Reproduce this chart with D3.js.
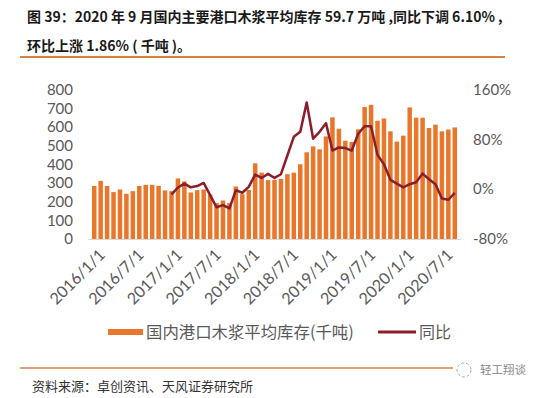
<!DOCTYPE html>
<html>

<head>
    <meta charset="UTF-8">
    <style>
        body { margin: 0; background: #fff; }
        svg { display: block; }
        text { font-family: "Noto Sans CJK SC", "Noto Sans", sans-serif; }
        .tick text { font-family: Lato, "Noto Sans", sans-serif; fill: #595959; }
    </style>
</head>

<body>
    <svg></svg>
    <script src="https://d3js.org/d3.v7.min.js"></script>
    <script>
        let width = 550,
            height = 398;

        // months 2016/1 .. 2020/9
        let months = d3.timeMonth.range(new Date(2016, 0, 1), new Date(2020, 9, 1));

        // 国内港口木浆平均库存 (千吨)
        let stock = [
            284, 311, 284, 251, 265, 242, 256, 284, 290, 290, 284, 260,
            256, 324, 308, 249, 261, 265, 238, 192, 206, 192, 281, 240,
            263, 405, 355, 315, 316, 322, 347, 355, 400, 464, 496, 480,
            549, 651, 590, 526, 519, 587, 706, 718, 633, 645, 576, 521,
            553, 704, 649, 649, 594, 612, 576, 586, 597
        ];

        // 同比 (%), starts 2017/1
        let yoy = [
            -8.5, 2.7, 9, 3, 5, 10, -9.6, -29, -25.6, -31, -1.6, -5.8,
            3.8, 23.5, 18, 24.6, 18, 24, 54, 84, 92, 139, 81, 92,
            106, 62, 67, 66, 62, 89, 101, 101, 55, 40, 15, 9,
            3, 8, 11, 25, 16, 8, -15, -17, -6.1
        ];

        let leftTicks = [0, 100, 200, 300, 400, 500, 600, 700, 800];
        let rightTicks = [-80, 0, 80, 160];

        let fmt = d3.timeFormat("%Y/%-m/%-d");

        let svg = d3.select("svg")
            .attr("width", width)
            .attr("height", height);

        // title
        svg.append("text")
            .attr("x", 27)
            .attr("y", 22)
            .style("font-size", "14px")
            .style("font-weight", "bold")
            .style("fill", "#1a1a1a")
            .text("图 39：2020 年 9 月国内主要港口木浆平均库存 59.7 万吨 ,同比下调 6.10% ,");
        svg.append("text")
            .attr("x", 27)
            .attr("y", 51)
            .style("font-size", "14px")
            .style("font-weight", "bold")
            .style("fill", "#1a1a1a")
            .text("环比上涨 1.86% ( 千吨 )。");

        svg.append("line")
            .attr("x1", 20).attr("x2", 505)
            .attr("y1", 57).attr("y2", 57)
            .attr("stroke", "#D9823F")
            .attr("stroke-width", 2);

        let x = d3.scaleBand()
            .domain(months)
            .range([91, 458])
            .paddingInner(0.3)
            .paddingOuter(0.15);

        let y = d3.scaleLinear()
            .domain([0, 800])
            .range([239, 89.5]);

        let y2 = d3.scaleLinear()
            .domain([-80, 160])
            .range([239, 89.5]);

        // left axis
        let leftAxis = svg.append("g")
            .attr("transform", "translate(77,0)")
            .call(d3.axisLeft(y).tickValues(leftTicks).tickSize(0).tickPadding(4));
        leftAxis.select(".domain").remove();
        leftAxis.selectAll("text").style("font-size", "15px");

        // right axis
        let rightAxis = svg.append("g")
            .attr("transform", "translate(470,0)")
            .call(d3.axisRight(y2).tickValues(rightTicks).tickSize(0).tickPadding(3)
                .tickFormat(d => d + "%"));
        rightAxis.select(".domain").remove();
        rightAxis.selectAll("text").style("font-size", "15px");

        // bars
        svg.append("g")
            .selectAll("rect")
            .data(stock)
            .enter()
            .append("rect")
            .attr("x", (d, i) => x(months[i]))
            .attr("y", d => y(d))
            .attr("width", x.bandwidth())
            .attr("height", d => y(0) - y(d))
            .attr("fill", "#E8772C");

        // baseline
        svg.append("line")
            .attr("x1", 88).attr("x2", 461)
            .attr("y1", y(0) + 0.5).attr("y2", y(0) + 0.5)
            .attr("stroke", "#D9D9D9")
            .attr("stroke-width", 1.2);

        // bottom axis labels
        let labelMonths = months.filter(d => d.getMonth() % 6 === 0);
        let bottomAxis = svg.append("g")
            .attr("transform", "translate(0," + y(0) + ")")
            .call(d3.axisBottom(x).tickValues(labelMonths).tickSize(0).tickFormat(fmt));
        bottomAxis.select(".domain").remove();
        bottomAxis.selectAll("text")
            .style("font-size", "16px")
            .style("text-anchor", "end")
            .attr("x", 4)
            .attr("y", 9)
            .attr("dx", 0)
            .attr("dy", "0.7em")
            .attr("transform", "rotate(-45, 4, 9)");

        // yoy line
        let line = d3.line()
            .x((d, i) => x(months[i + 12]) + x.bandwidth() / 2)
            .y(d => y2(d));

        svg.append("path")
            .datum(yoy)
            .attr("fill", "none")
            .attr("stroke", "#8C1D2B")
            .attr("stroke-width", 2.5)
            .attr("stroke-linejoin", "round")
            .attr("d", line);

        // legend
        let legend = svg.append("g");
        legend.append("rect")
            .attr("x", 108).attr("y", 329)
            .attr("width", 35).attr("height", 6)
            .attr("fill", "#E8772C");
        legend.append("text")
            .attr("x", 146).attr("y", 338)
            .style("font-size", "16.4px")
            .style("fill", "#595959")
            .text("国内港口木浆平均库存(千吨)");
        legend.append("line")
            .attr("x1", 378).attr("x2", 416)
            .attr("y1", 332).attr("y2", 332)
            .attr("stroke", "#8C1D2B")
            .attr("stroke-width", 3);
        legend.append("text")
            .attr("x", 419).attr("y", 338)
            .style("font-size", "16px")
            .style("fill", "#595959")
            .text("同比");

        // footer
        svg.append("line")
            .attr("x1", 20).attr("x2", 453)
            .attr("y1", 368).attr("y2", 368)
            .attr("stroke", "#D9823F")
            .attr("stroke-width", 1.5);
        svg.append("text")
            .attr("x", 32).attr("y", 391)
            .style("font-size", "13px")
            .style("fill", "#333")
            .text("资料来源：卓创资讯、天风证券研究所");

        // watermark
        svg.append("circle")
            .attr("cx", 464).attr("cy", 370)
            .attr("r", 7)
            .attr("fill", "none")
            .attr("stroke", "#aaa")
            .attr("stroke-dasharray", "3,2");
        svg.append("text")
            .attr("x", 480).attr("y", 374)
            .style("font-size", "11.5px")
            .style("fill", "#888")
            .text("轻工翔谈");
    </script>
</body>

</html>
